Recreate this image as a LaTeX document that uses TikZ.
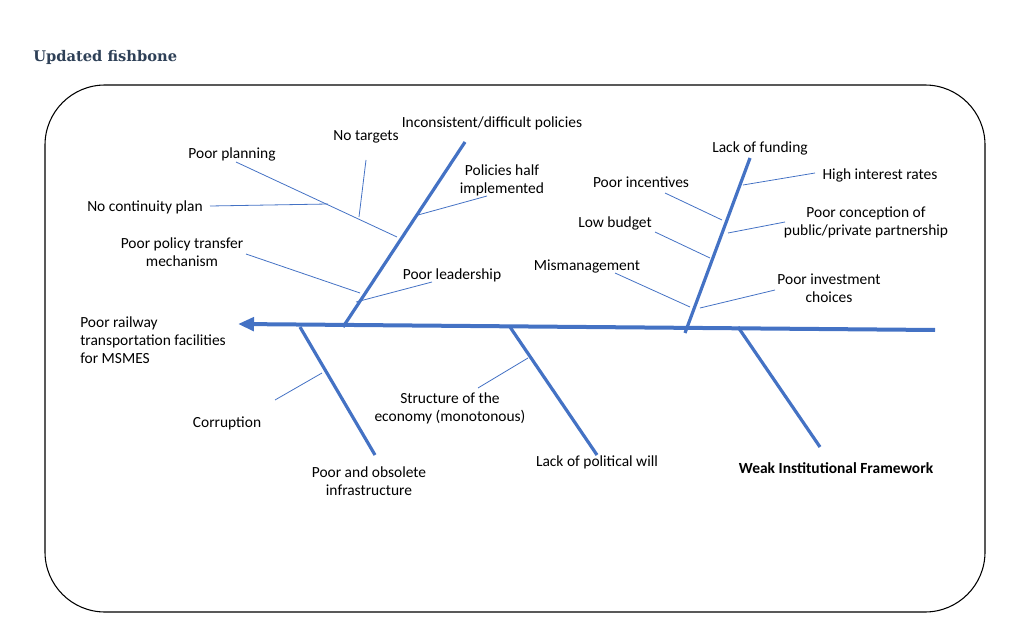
\documentclass[tikz,border=0pt]{standalone}
\usepackage{fontspec}
\setmainfont{Carlito}
\newfontfamily\titlefont{DejaVu Serif}
\usetikzlibrary{arrows.meta}
\definecolor{bl}{HTML}{4472C4}
\definecolor{tc}{HTML}{2E4057}
\begin{document}
\begin{tikzpicture}[x=0.75pt,y=-0.75pt,
  bone/.style={draw=bl,line width=2.4pt},
  twig/.style={draw=bl,line width=0.6pt},
  lab/.style={font=\fontsize{11.6}{13.6}\selectfont,align=center,inner sep=0pt}]
\useasboundingbox (0,0) rectangle (1024,627);
\node[anchor=west,inner sep=0pt,font=\titlefont\bfseries\fontsize{11}{13}\selectfont,text=tc] (title) at (33,57) {Updated fishbone};
\draw[line width=0.8pt,rounded corners=45pt] (45,85) rectangle (985,612);
% spine
\coordinate (s1) at (935,330); \coordinate (s0) at (238,324);
\draw[bone,line width=3pt,-{Triangle[length=12pt,width=10pt]}] (s1) -- (s0);
% bones
\coordinate (a0) at (343,327); \coordinate (a1) at (465,142);
\coordinate (b0) at (685,333); \coordinate (b1) at (750,158);
\coordinate (c0) at (300,327); \coordinate (c1) at (375,455);
\coordinate (d0) at (510,327); \coordinate (d1) at (597,455);
\coordinate (e0) at (738,327); \coordinate (e1) at (820,447);
\foreach \p/\q in {a0/a1,b0/b1,c0/c1,d0/d1,e0/e1} \draw[bone] (\p) -- (\q);
% twigs
\draw[twig] (236,162) -- (397,237);
\draw[twig] (210,206) -- (328,204);
\draw[twig] (366,160) -- (359,217);
\draw[twig] (487,196) -- (418,215);
\draw[twig] (246,254) -- (360,293);
\draw[twig] (432,282) -- (356,302);
\draw[twig] (665,193) -- (722,220);
\draw[twig] (655,232) -- (710,258);
\draw[twig] (615,273) -- (690,307);
\draw[twig] (815,173) -- (743,185);
\draw[twig] (785,222) -- (728,233);
\draw[twig] (775,290) -- (700,308);
\draw[twig] (275,400) -- (322,373);
\draw[twig] (478,388) -- (528,358);
% labels
\node[lab] (l1) at (492,123) {Inconsistent/difficult policies};
\node[lab] (l2) at (366,137) {No targets};
\node[lab] (l3) at (232,154) {Poor planning};
\node[lab] (l4) at (502,180) {Policies half\\implemented};
\node[lab] (l5) at (145,207) {No continuity plan};
\node[lab] (l6) at (182,252) {Poor policy transfer\\mechanism};
\node[lab] (l7) at (452,275) {Poor leadership};
\node[lab,align=left,anchor=west] (l8) at (80,340) {Poor railway\\transportation facilities\\for MSMES};
\node[lab] (l9) at (760,148) {Lack of funding};
\node[lab] (l10) at (641,182) {Poor incentives};
\node[lab] (l11) at (880,175) {High interest rates};
\node[lab] (l12) at (615,223) {Low budget};
\node[lab] (l13) at (866,222) {Poor conception of\\public/private partnership};
\node[lab] (l14) at (587,267) {Mismanagement};
\node[lab] (l15) at (829,288) {Poor investment\\choices};
\node[lab] (l16) at (227,423) {Corruption};
\node[lab] (l17) at (450,408) {Structure of the\\economy (monotonous)};
\node[lab] (l18) at (369,481) {Poor and obsolete\\infrastructure};
\node[lab] (l19) at (597,462) {Lack of political will};
\node[lab,font=\bfseries\fontsize{11.6}{13.6}\selectfont] (l20) at (836,468) {Weak Institutional Framework};
\end{tikzpicture}
\end{document}
